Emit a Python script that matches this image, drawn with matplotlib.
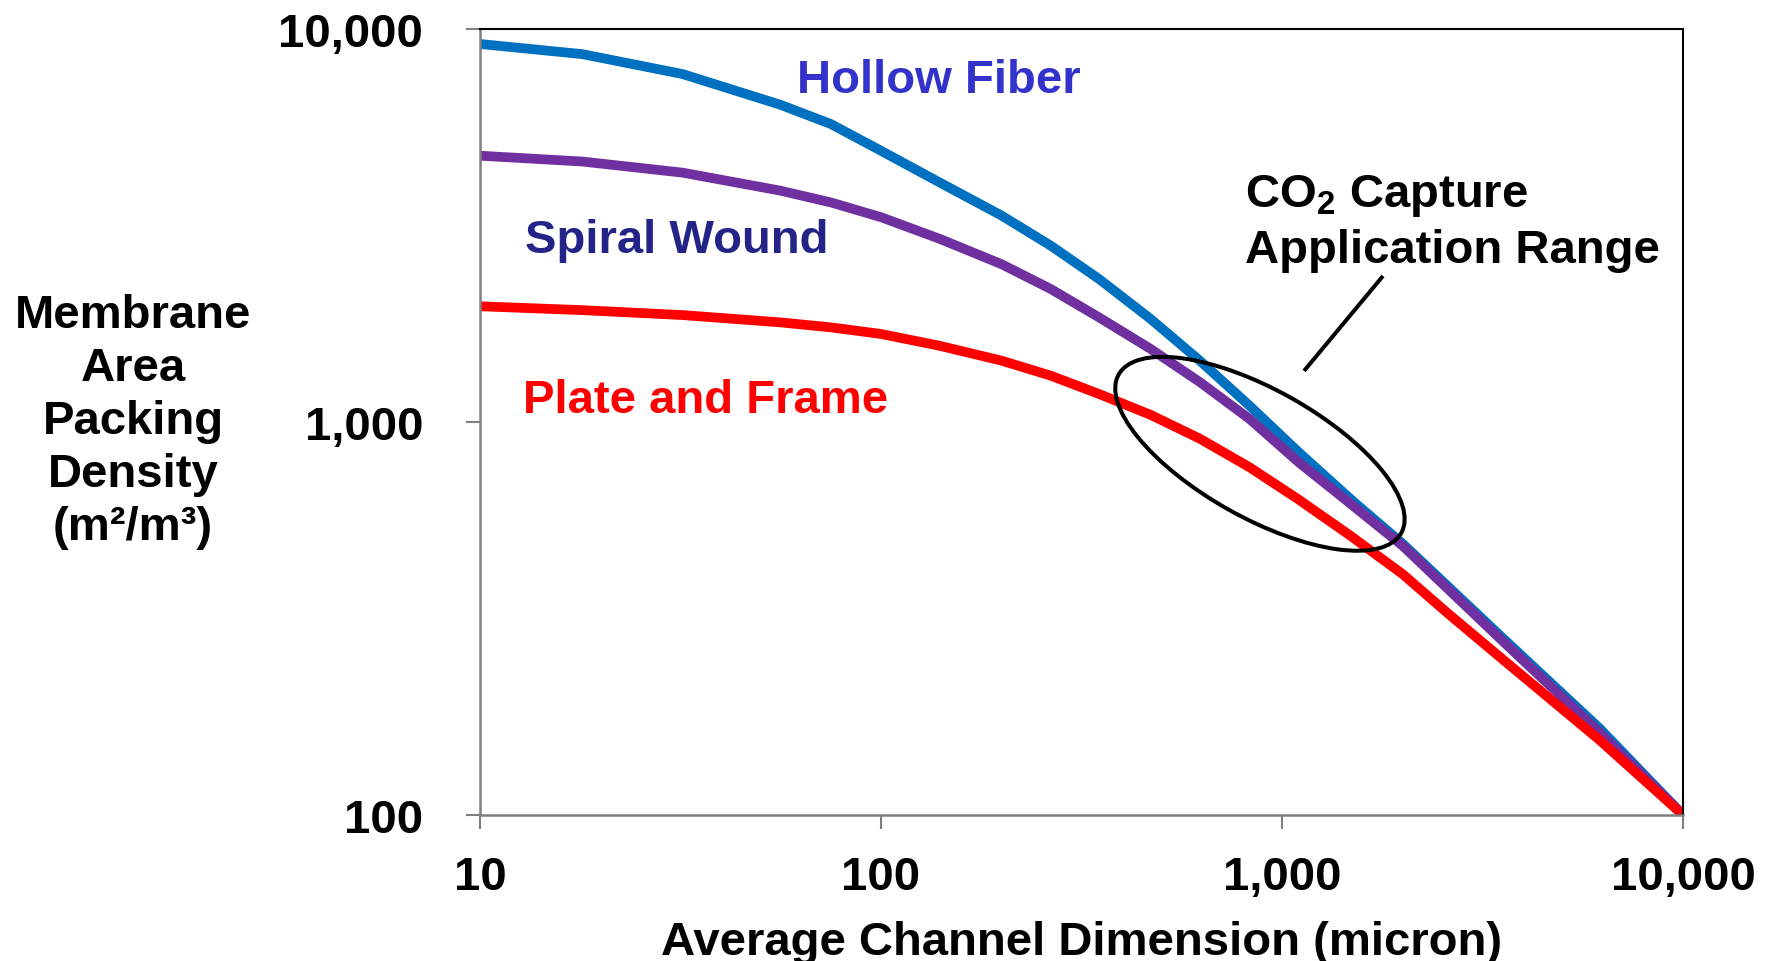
import numpy as np
import matplotlib
matplotlib.use("Agg")
import matplotlib.pyplot as plt
from matplotlib.patches import Ellipse
from matplotlib.transforms import IdentityTransform

plt.rcParams['font.family'] = ['Liberation Sans', 'DejaVu Sans']
plt.rcParams['font.weight'] = 'bold'
plt.rcParams['mathtext.fontset'] = 'custom'
plt.rcParams['mathtext.rm'] = 'Liberation Sans:bold'
plt.rcParams['mathtext.it'] = 'Liberation Sans:bold'
plt.rcParams['mathtext.bf'] = 'Liberation Sans:bold'

# valori (micron -> m2/m3)
x_hollow = [10, 18, 32, 56, 75, 100, 140, 200, 265, 350, 470, 625, 830, 1100, 1500, 2000, 3500, 6200, 10000]
y_hollow = [9160, 8630, 7680, 6420, 5730, 4900, 4070, 3350, 2810, 2310, 1830, 1430, 1100, 838, 630, 490, 286, 166, 100]

x_spiral = [10, 18, 32, 56, 75, 100, 140, 200, 265, 350, 470, 625, 830, 1100, 1400, 2000, 3500, 6200, 10000]
y_spiral = [4760, 4600, 4310, 3880, 3620, 3320, 2925, 2520, 2180, 1845, 1535, 1262, 1018, 790, 649, 484, 281, 162, 100]

x_plate = [10, 18, 32, 56, 75, 100, 140, 200, 265, 350, 470, 625, 830, 1100, 1480, 2000, 2600, 3500, 6200, 10000]
y_plate = [1970, 1926, 1871, 1793, 1741, 1675, 1563, 1432, 1312, 1178, 1043, 906, 767, 635, 514, 410, 325, 252, 155, 100]

x_ticks = [10, 100, 1000, 10000]
y_ticks = [100, 1000, 10000]
x_tick_labels = ['10', '100', '1,000', '10,000']
y_tick_labels = ['100', '1,000', '10,000']

W, H = 1772, 962
fig = plt.figure(figsize=(W / 100, H / 100), dpi=100)
ax = fig.add_axes([480 / W, 146 / H, 1203 / W, 786 / H])

stile = dict(lw=7, solid_capstyle='butt', solid_joinstyle='round')
ax.plot(x_hollow, y_hollow, color='#0070C0', **stile)
ax.plot(x_spiral, y_spiral, color='#7030A0', **stile)
ax.plot(x_plate, y_plate, color='#FF0000', **stile)

ax.set_xscale('log')
ax.set_yscale('log')
ax.set_xlim(10, 10000)
ax.set_ylim(100, 10000)
ax.set_xticks(x_ticks)
ax.set_xticklabels(x_tick_labels)
ax.set_yticks(y_ticks)
ax.set_yticklabels(y_tick_labels)
ax.minorticks_off()
ax.tick_params(axis='both', which='major', direction='out', length=10, width=1.5,
               color='#808080', labelsize=34)
ax.tick_params(axis='x', pad=19)
ax.tick_params(axis='y', pad=31)

for s in ['left', 'bottom']:
    ax.spines[s].set_color('#808080')
    ax.spines[s].set_linewidth(1.8)
for s in ['top', 'right']:
    ax.spines[s].set_color('black')
    ax.spines[s].set_linewidth(1.5)

# etichette delle curve
ax.text(0.2635, 0.920, 'Hollow Fiber', transform=ax.transAxes, color='#3333CC',
        fontsize=34, fontweight='bold', ha='left', va='baseline')
ax.text(0.0374, 0.716, 'Spiral Wound', transform=ax.transAxes, color='#232388',
        fontsize=34, fontweight='bold', ha='left', va='baseline')
ax.text(0.0357, 0.513, 'Plate and Frame', transform=ax.transAxes, color='#FF0000',
        fontsize=34, fontweight='bold', ha='left', va='baseline')

ax.text(0.636, 0.775, r'CO$_2$ Capture', transform=ax.transAxes, color='black',
        fontsize=34, fontweight='bold', ha='left', va='baseline')
ax.text(0.636, 0.703, 'Application Range', transform=ax.transAxes, color='black',
        fontsize=34, fontweight='bold', ha='left', va='baseline')

# ellisse e linea di richiamo
cx, cy = ax.transData.transform((881, 830))
ell = Ellipse((cx, cy), 324, 128, angle=-29.3, transform=IdentityTransform(),
              fill=False, edgecolor='black', lw=2.9, zorder=5)
fig.add_artist(ell)
ax.plot([1786, 1135], [2353, 1349], color='black', lw=2.9, solid_capstyle='butt')

fig.text(133 / W, 1 - 422 / H, 'Membrane\nArea\nPacking\nDensity\n(m²/m³)',
         ha='center', va='center', multialignment='center', fontsize=34,
         fontweight='bold', linespacing=1.27)
fig.text(1081.5 / W, 7 / H, 'Average Channel Dimension (micron)',
         ha='center', va='baseline', fontsize=34, fontweight='bold')

fig.savefig('out.png', dpi=100)
